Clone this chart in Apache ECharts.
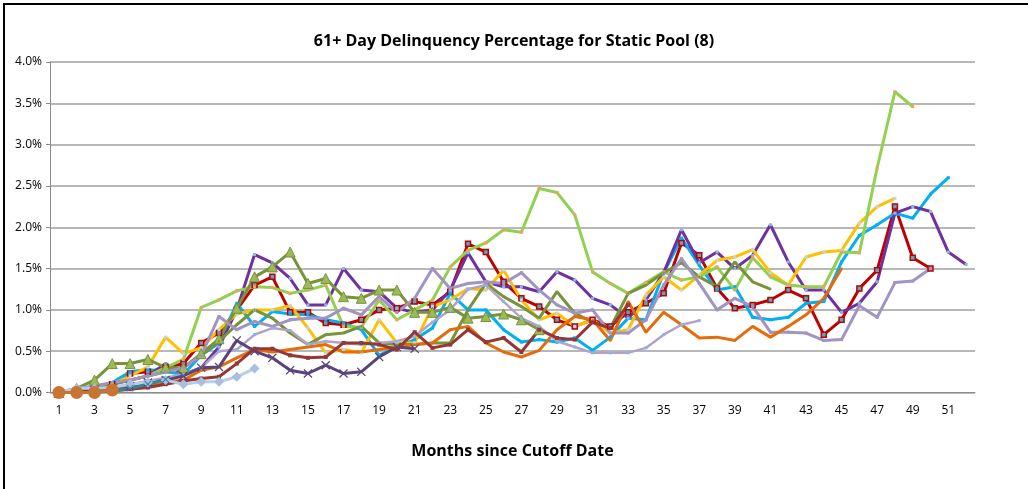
<!DOCTYPE html>
<html>
<head>
<meta charset="utf-8">
<script src="https://cdn.jsdelivr.net/npm/echarts@6/dist/echarts.min.js"></script>
<style>
  html, body { margin: 0; padding: 0; background: #fff; overflow: hidden; }
  #frame { position: absolute; left: 3px; top: 3px; width: 1040px; height: 500px; border: 2px solid #000; box-sizing: border-box; }
  #chart { position: absolute; left: 0; top: 0; width: 1028px; height: 489px; }
</style>
</head>
<body>
<div id="frame"></div>
<div id="chart"></div>
<script>
// months since cutoff date
const months = Array.from({ length: 52 }, (_, i) => String(i + 1));
const yTicks = [0, 0.5, 1.0, 1.5, 2.0, 2.5, 3.0, 3.5, 4.0];

// 61+ day delinquency, percent, one array per pool
const poolRed = [0, 0.02, 0.05, 0.1, 0.23, 0.25, 0.3, 0.35, 0.6, 0.72, 1.0, 1.3, 1.4, 0.97, 0.97, 0.84, 0.82, 0.88, 1.0, 1.02, 1.1, 1.06, 1.22, 1.8, 1.7, 1.34, 1.14, 1.04, 0.88, 0.8, 0.88, 0.8, 0.97, 1.08, 1.2, 1.81, 1.66, 1.26, 1.02, 1.06, 1.12, 1.24, 1.14, 0.7, 0.88, 1.26, 1.48, 2.25, 1.63, 1.5];
const poolCyan = [0, 0.02, 0.05, 0.12, 0.25, 0.28, 0.25, 0.22, 0.45, 0.6, 1.08, 0.8, 0.98, 0.95, 0.94, 0.88, 0.84, 0.76, 0.45, 0.55, 0.64, 0.78, 1.2, 1.0, 1.0, 0.76, 0.61, 0.64, 0.61, 0.66, 0.51, 0.67, 0.9, 0.88, 1.45, 1.87, 1.54, 1.24, 1.28, 0.91, 0.88, 0.91, 1.08, 1.1, 1.58, 1.9, 2.03, 2.17, 2.11, 2.4, 2.6];
const poolPurple = [0, 0.02, 0.05, 0.1, 0.15, 0.2, 0.35, 0.22, 0.3, 0.55, 1.0, 1.67, 1.57, 1.38, 1.06, 1.06, 1.5, 1.24, 1.22, 1.02, 0.97, 1.0, 1.24, 1.69, 1.34, 1.28, 1.28, 1.22, 1.46, 1.36, 1.14, 1.06, 0.9, 1.12, 1.45, 1.97, 1.57, 1.7, 1.5, 1.66, 2.03, 1.58, 1.24, 1.24, 0.97, 1.08, 1.34, 2.17, 2.25, 2.19, 1.7, 1.55];
const poolYellow = [0, 0.02, 0.05, 0.1, 0.2, 0.31, 0.67, 0.47, 0.54, 0.76, 0.95, 1.0, 1.0, 1.05, 0.78, 0.48, 0.52, 0.48, 0.88, 0.6, 0.6, 1.04, 1.12, 1.26, 1.24, 1.48, 1.12, 0.88, 0.96, 0.8, 0.88, 0.72, 0.76, 1.18, 1.4, 1.24, 1.42, 1.6, 1.64, 1.73, 1.45, 1.3, 1.64, 1.7, 1.72, 2.05, 2.25, 2.35];
const poolLime = [0, 0.03, 0.06, 0.1, 0.15, 0.2, 0.3, 0.4, 1.03, 1.12, 1.23, 1.28, 1.27, 1.2, 1.24, 1.3, 0.8, 0.79, 1.12, 0.88, 1.0, 1.12, 1.52, 1.72, 1.81, 1.97, 1.94, 2.47, 2.42, 2.15, 1.46, 1.32, 1.2, 1.33, 1.46, 1.36, 1.4, 1.52, 1.24, 1.63, 1.4, 1.3, 1.28, 1.28, 1.7, 1.69, 2.72, 3.64, 3.46];
const poolOliveTri = [0, 0.05, 0.15, 0.35, 0.35, 0.4, 0.3, 0.3, 0.47, 0.65, 1.02, 1.4, 1.52, 1.7, 1.32, 1.38, 1.16, 1.14, 1.24, 1.24, 0.97, 0.97, 1.03, 0.9, 0.92, 0.95, 0.88, 0.76];
const poolOlive = [0, 0.02, 0.05, 0.1, 0.15, 0.2, 0.25, 0.3, 0.45, 0.62, 0.82, 1.0, 0.9, 0.72, 0.58, 0.7, 0.72, 0.8, 0.6, 0.58, 0.58, 0.6, 0.6, 1.0, 1.32, 1.16, 1.04, 0.9, 1.22, 0.96, 0.85, 0.78, 1.2, 1.3, 1.45, 1.57, 1.4, 1.28, 1.58, 1.34, 1.25];
const poolLavender = [0, 0.05, 0.08, 0.12, 0.15, 0.2, 0.25, 0.3, 0.45, 0.92, 0.76, 0.86, 0.8, 0.88, 0.9, 0.9, 1.02, 0.94, 1.16, 0.97, 1.14, 1.5, 1.26, 1.32, 1.34, 1.32, 1.45, 1.24, 1.06, 0.96, 1.0, 0.72, 0.72, 0.88, 1.3, 1.62, 1.32, 1.0, 1.14, 1.04, 0.73, 0.73, 0.72, 0.63, 0.64, 1.05, 0.91, 1.33, 1.35, 1.5];
const poolOrange = [0, 0, 0.01, 0.02, 0.04, 0.08, 0.12, 0.15, 0.27, 0.31, 0.42, 0.52, 0.49, 0.52, 0.55, 0.58, 0.49, 0.49, 0.52, 0.55, 0.58, 0.6, 0.76, 0.8, 0.6, 0.49, 0.43, 0.51, 0.76, 0.92, 0.88, 0.63, 1.1, 0.73, 0.97, 0.82, 0.66, 0.67, 0.63, 0.8, 0.67, 0.8, 0.94, 1.14, 1.5];
const poolCircle = [0, 0, 0, 0.03];
const poolDarkPurple = [0, 0.01, 0.03, 0.05, 0.08, 0.12, 0.15, 0.2, 0.3, 0.31, 0.63, 0.5, 0.42, 0.27, 0.23, 0.33, 0.23, 0.25, 0.43, 0.55, 0.53];
const poolBrown = [0, 0, 0.01, 0.02, 0.04, 0.06, 0.1, 0.14, 0.17, 0.19, 0.35, 0.53, 0.53, 0.45, 0.42, 0.43, 0.6, 0.6, 0.58, 0.52, 0.73, 0.54, 0.58, 0.76, 0.61, 0.66, 0.49, 0.76, 0.66, 0.64, 0.85, 0.78, 1.06];
const poolLilac = [0, 0.02, 0.04, 0.06, 0.1, 0.14, 0.18, 0.22, 0.3, 0.5, 0.52, 0.7, 0.78, 0.75, 0.58, 0.62, 0.6, 0.58, 0.6, 0.62, 0.68, 0.85, 1.0, 1.25, 1.3, 1.1, 0.9, 0.8, 0.62, 0.55, 0.48, 0.48, 0.48, 0.54, 0.7, 0.82, 0.87];
const poolDiamond = [0, 0.05, 0.05, 0.06, 0.1, 0.12, 0.15, 0.1, 0.13, 0.13, 0.19, 0.29];
const poolTeal = [0, 0, 0, 0.02, 0.05, 0.1, 0.16];

const xMark = 'path://M0,1L1,0L5,4L9,0L10,1L6,5L10,9L9,10L5,6L1,10L0,9L4,5Z';

function line(data, color, opts) {
  opts = opts || {};
  return {
    type: 'line',
    data: data,
    symbol: opts.symbol || 'rect',
    symbolSize: opts.size || 3,
    showSymbol: true,
    showAllSymbol: true,
    lineStyle: { color: color, width: opts.width || 3 },
    itemStyle: { color: opts.fill || color, borderColor: opts.border || color, borderWidth: opts.bw || 0 },
    z: opts.z || 2
  };
}

const chart = echarts.init(document.getElementById('chart'));
chart.setOption({
  animation: false,
  title: {
    text: '61+ Day Delinquency Percentage for Static Pool (8)',
    left: 'center',
    top: 28,
    textStyle: { fontFamily: 'Open Sans', fontSize: 16, fontWeight: 'bold', color: '#000' }
  },
  grid: { left: 50, right: 53, top: 62, bottom: 96.5 },
  xAxis: {
    type: 'category',
    data: months,
    boundaryGap: true,
    name: 'Months since Cutoff Date',
    nameLocation: 'middle',
    nameGap: 51,
    nameTextStyle: { fontFamily: 'Open Sans', fontSize: 16, fontWeight: 'bold', color: '#000' },
    axisLine: { lineStyle: { color: '#8c8c8c', width: 1 } },
    axisTick: { interval: 0, length: 5, lineStyle: { color: '#8c8c8c' } },
    axisLabel: { interval: 1, margin: 12, fontFamily: 'Open Sans', fontSize: 12, color: '#000' },
    splitLine: { show: false }
  },
  yAxis: {
    type: 'value',
    min: yTicks[0],
    max: yTicks[yTicks.length - 1],
    interval: 0.5,
    axisLine: { show: true, lineStyle: { color: '#8c8c8c', width: 1 } },
    axisTick: { show: true, length: 4, lineStyle: { color: '#8c8c8c' } },
    axisLabel: { margin: 8, fontFamily: 'Noto Sans', fontSize: 12, color: '#111', formatter: v => v.toFixed(1) + '%' },
    splitLine: { lineStyle: { color: '#a0a0a0', width: 1.5 } }
  },
  series: [
    line(poolRed, '#C00000', { symbol: 'rect', size: 5, fill: '#4BACC6', border: '#C00000', bw: 1.5 }),
    line(poolCyan, '#00B0F0', { size: 3 }),
    line(poolPurple, '#7030A0', { size: 3, fill: '#8EB4E3' }),
    line(poolYellow, '#FFC000', { size: 3, fill: '#BFD5EE' }),
    line(poolLime, '#92D050', { size: 3, fill: '#F0A060' }),
    line(poolOliveTri, '#77933C', { symbol: 'triangle', size: 10, fill: '#9BBB59', border: '#77933C', bw: 1 }),
    line(poolOlive, '#77933C', { size: 2 }),
    line(poolLavender, '#A193C2', { size: 3 }),
    line(poolOrange, '#E46C0A', { size: 2 }),
    line(poolLilac, '#B3A2C7', { size: 3, width: 2.5, fill: '#8EB4E3' }),
    line(poolDarkPurple, '#5B4479', { symbol: xMark, size: 9 }),
    line(poolBrown, '#953735', { size: 4 }),
    line(poolDiamond, '#B9CDE5', { symbol: 'diamond', size: 10, fill: '#A7C0E0' }),
    line(poolTeal, '#31859C', { symbol: xMark, size: 7 }),
    line(poolCircle, '#C87533', { symbol: 'circle', size: 13, z: 5 })
  ]
});
</script>
</body>
</html>
